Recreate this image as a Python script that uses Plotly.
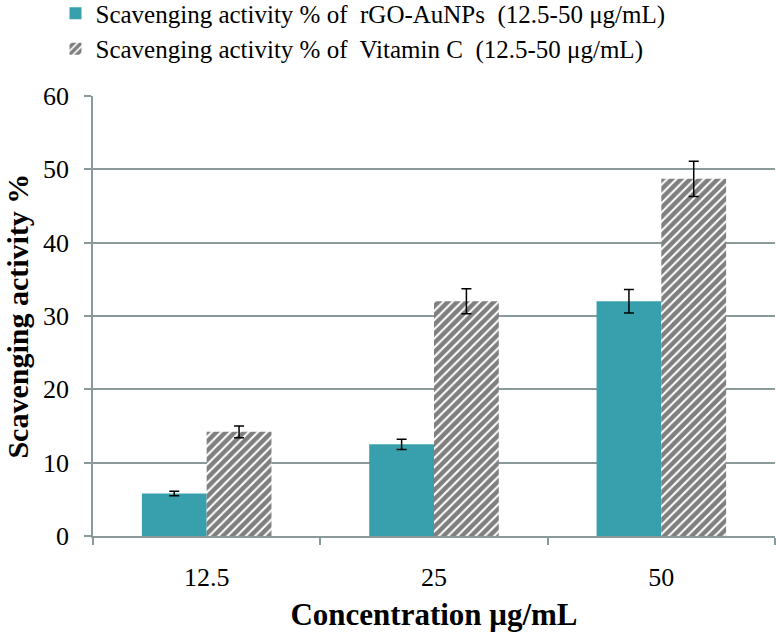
import plotly.graph_objects as go

categories = ["12.5", "25", "50"]
rgo_values = [5.8, 12.5, 32.0]
rgo_errors = [0.3, 0.7, 1.6]
vitc_values = [14.2, 32.0, 48.7]
vitc_errors = [0.8, 1.7, 2.4]
series_names = [
    "Scavenging activity % of  rGO-AuNPs  (12.5-50 μg/mL)",
    "Scavenging activity % of  Vitamin C  (12.5-50 μg/mL)",
]
y_ticks = [0, 10, 20, 30, 40, 50, 60]

FONT = "Liberation Serif, Times New Roman, serif"
GRID = "#8A9A9A"

fig = go.Figure()
fig.add_trace(go.Bar(
    x=categories, y=rgo_values, name=series_names[0],
    marker=dict(color="#38A0AC", line=dict(width=0)),
    error_y=dict(type="data", array=rgo_errors, color="black", thickness=1.5, width=5),
))
fig.add_trace(go.Bar(
    x=categories, y=vitc_values, name=series_names[1],
    marker=dict(color="white", line=dict(width=0),
                pattern=dict(shape="/", fgcolor="black", bgcolor="white", size=6.5, solidity=0.68)),
    error_y=dict(type="data", array=vitc_errors, color="black", thickness=1.5, width=5),
))

fig.update_layout(
    width=776, height=632,
    margin=dict(l=93, r=1, t=96, b=96, autoexpand=False),
    paper_bgcolor="white", plot_bgcolor="white",
    barmode="group", bargap=0.43, bargroupgap=0,
    font=dict(family=FONT, size=26, color="black"),
    showlegend=True,
    legend=dict(x=-0.055, y=1.24, xanchor="left", yanchor="top",
                font=dict(family=FONT, size=25, color="black"),
                bgcolor="rgba(0,0,0,0)", tracegroupgap=0, itemwidth=30),
    xaxis=dict(
        title=dict(text="<b>Concentration μg/mL</b>", font=dict(family=FONT, size=31), standoff=14),
        showline=True, linecolor=GRID, linewidth=1.5,
        ticks="outside", tickson="boundaries", ticklen=7, tickcolor=GRID, tickwidth=1.5,
        showgrid=False, tickfont=dict(family=FONT, size=26), ticklabelstandoff=17,
        automargin=False,
    ),
    yaxis=dict(
        range=[0, 60], tickvals=y_ticks, ticktext=[str(v) for v in y_ticks],
        showline=True, linecolor=GRID, linewidth=1.5,
        ticks="outside", ticklen=7, tickcolor=GRID, tickwidth=1.5,
        showgrid=True, gridcolor=GRID, gridwidth=1.5, zeroline=False,
        tickfont=dict(family=FONT, size=26), ticklabelstandoff=10,
        automargin=False,
    ),
    annotations=[dict(
        text="<b>Scavenging activity %</b>", xref="paper", yref="paper",
        x=-0.112, y=0.5, xanchor="center", yanchor="middle", textangle=-90,
        showarrow=False, font=dict(family=FONT, size=30, color="black"),
    )],
)

fig.write_html("out.html", config={"displayModeBar": False},
               post_script="document.body.style.margin='0';")
